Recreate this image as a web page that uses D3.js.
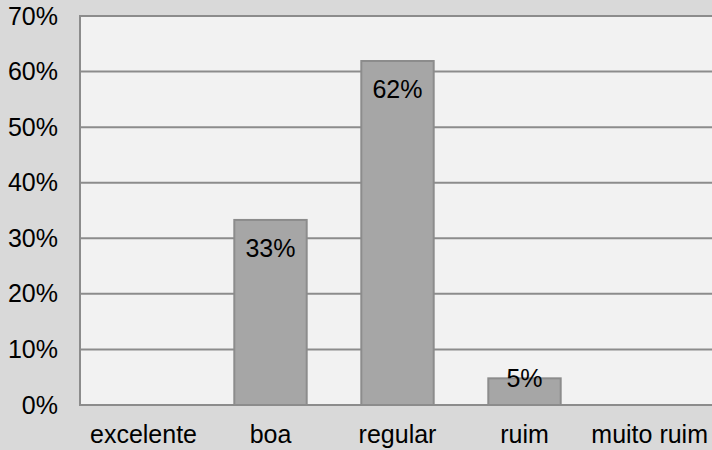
<!DOCTYPE html>
<html>
<head>
    <meta charset="UTF-8">
    <title>Avaliação</title>
    <style>
        body {
            margin: 0;
            background-color: #d9d9d9;
            font-family: Arial, "Liberation Sans", sans-serif;
        }
        svg {
            display: block;
        }
        .tick-label, .bar-label {
            fill: #000;
            font-size: 25px;
        }
    </style>
</head>
<body>
    <svg id="chart" width="712" height="450"></svg>

    <script src="https://d3js.org/d3.v7.min.js"></script>
    <script>
        // Data
        var categories = ["excelente", "boa", "regular", "ruim", "muito ruim"];
        var values = [0, 0.333, 0.619, 0.048, 0];
        var valueLabels = ["", "33%", "62%", "5%", ""];
        var yTicks = [0, 0.1, 0.2, 0.3, 0.4, 0.5, 0.6, 0.7];

        var width = 712, height = 450;
        var plot = { left: 80, top: 16, right: 715, bottom: 405 };

        var svg = d3.select("#chart");

        var x = d3.scaleBand()
            .domain(categories)
            .range([plot.left, plot.right])
            .paddingInner(0.43)
            .paddingOuter(0.215);

        var y = d3.scaleLinear()
            .domain([0, 0.7])
            .range([plot.bottom, plot.top]);

        // Plot area
        svg.append("rect")
            .attr("x", plot.left)
            .attr("y", plot.top)
            .attr("width", plot.right - plot.left)
            .attr("height", plot.bottom - plot.top)
            .attr("fill", "#f2f2f2")
            .attr("stroke", "#8c8c8c")
            .attr("stroke-width", 2);

        // Gridlines
        svg.append("g")
            .selectAll("line")
            .data(yTicks)
            .enter().append("line")
            .attr("x1", plot.left)
            .attr("x2", plot.right)
            .attr("y1", function(d) { return y(d); })
            .attr("y2", function(d) { return y(d); })
            .attr("stroke", "#8c8c8c")
            .attr("stroke-width", 2);

        // Y axis labels
        var yAxis = d3.axisLeft(y)
            .tickValues(yTicks)
            .tickFormat(d3.format(".0%"))
            .tickSize(0)
            .tickPadding(22);

        var yG = svg.append("g")
            .attr("transform", "translate(" + plot.left + ",0)")
            .call(yAxis);
        yG.select(".domain").remove();
        yG.selectAll("text")
            .attr("class", "tick-label")
            .attr("font-family", null)
            .attr("font-size", null);

        // X axis labels
        var xAxis = d3.axisBottom(x)
            .tickSize(0)
            .tickPadding(0);

        var xG = svg.append("g")
            .attr("transform", "translate(0," + plot.bottom + ")")
            .call(xAxis);
        xG.select(".domain").remove();
        xG.selectAll("text")
            .attr("class", "tick-label")
            .attr("font-family", null)
            .attr("font-size", null)
            .attr("dy", null)
            .attr("y", 38);

        // keep last label inside the picture, like the original does
        xG.selectAll(".tick").each(function() {
            var t = d3.select(this).select("text");
            var box = this.getBBox();
            var tx = this.transform.baseVal.consolidate().matrix.e;
            var overflow = tx + box.x + box.width - (width - 4);
            if (overflow > 0) t.attr("x", -overflow);
        });

        // Bars
        var bars = categories.map(function(c, i) {
            return { cat: c, value: values[i], label: valueLabels[i] };
        });

        svg.append("g")
            .selectAll("rect")
            .data(bars.filter(function(d) { return d.value > 0; }))
            .enter().append("rect")
            .attr("x", function(d) { return x(d.cat); })
            .attr("y", function(d) { return y(d.value); })
            .attr("width", x.bandwidth())
            .attr("height", function(d) { return y(0) - y(d.value); })
            .attr("fill", "#a6a6a6")
            .attr("stroke", "#8c8c8c")
            .attr("stroke-width", 2);

        // Value labels (inside end)
        svg.append("g")
            .selectAll("text")
            .data(bars.filter(function(d) { return d.label; }))
            .enter().append("text")
            .attr("class", "bar-label")
            .attr("text-anchor", "middle")
            .attr("x", function(d) { return x(d.cat) + x.bandwidth() / 2; })
            .attr("y", function(d) { return Math.min(y(d.value) + 37, y(0) - 18); })
            .text(function(d) { return d.label; });
    </script>
</body>
</html>
